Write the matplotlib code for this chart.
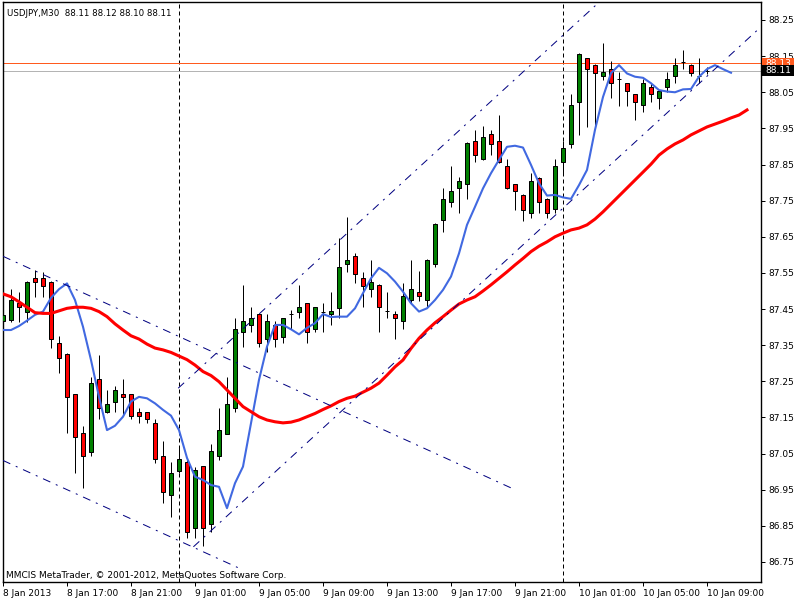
import matplotlib
matplotlib.use("Agg")
import matplotlib.pyplot as plt
from matplotlib.patches import Rectangle
from matplotlib.transforms import blended_transform_factory

# USDJPY M30 bars, 8 Jan 2013 13:00 .. 10 Jan 2013 09:00
opens = [87.417, 87.420, 87.468, 87.443, 87.536, 87.536, 87.525, 87.356, 87.326, 87.214,
         87.106, 87.055, 87.256, 87.164, 87.194, 87.214, 87.214, 87.164, 87.164, 87.134,
         87.044, 86.935, 87.003, 87.026, 86.845, 87.015, 86.854, 87.044, 87.105, 87.175,
         87.386, 87.405, 87.435, 87.366, 87.405, 87.374, 87.436, 87.443, 87.466, 87.394,
         87.443, 87.435, 87.454, 87.574, 87.597, 87.535, 87.505, 87.517, 87.445, 87.435,
         87.417, 87.475, 87.496, 87.475, 87.574, 87.697, 87.745, 87.784, 87.795, 87.915,
         87.865, 87.934, 87.915, 87.846, 87.795, 87.766, 87.715, 87.814, 87.755, 87.726,
         87.856, 87.906, 88.024, 88.144, 88.126, 88.095, 88.114, 88.086, 88.075, 88.044,
         88.015, 88.064, 88.035, 88.064, 88.095, 88.135, 88.126, 88.095, 88.110]
highs = [87.467, 87.505, 87.497, 87.528, 87.558, 87.553, 87.527, 87.375, 87.328, 87.216,
         87.126, 87.262, 87.323, 87.226, 87.237, 87.256, 87.216, 87.175, 87.166, 87.145,
         87.085, 87.026, 87.071, 87.032, 87.014, 87.017, 87.076, 87.175, 87.263, 87.424,
         87.517, 87.455, 87.437, 87.435, 87.416, 87.426, 87.447, 87.517, 87.468, 87.457,
         87.466, 87.496, 87.648, 87.706, 87.604, 87.553, 87.586, 87.519, 87.496, 87.445,
         87.523, 87.586, 87.555, 87.588, 87.688, 87.784, 87.847, 87.816, 87.912, 87.946,
         87.957, 87.946, 87.987, 87.865, 87.797, 87.768, 87.826, 87.816, 87.757, 87.864,
         87.916, 88.044, 88.159, 88.146, 88.128, 88.187, 88.137, 88.105, 88.077, 88.046,
         88.086, 88.075, 88.056, 88.105, 88.144, 88.167, 88.128, 88.144, 88.120]
lows = [87.386, 87.414, 87.415, 87.415, 87.483, 87.483, 87.342, 87.273, 87.107, 86.995,
        86.954, 87.044, 87.145, 87.162, 87.164, 87.157, 87.145, 87.134, 87.134, 87.025,
        86.914, 86.875, 86.996, 86.816, 86.816, 86.795, 86.834, 87.032, 87.103, 87.164,
        87.346, 87.386, 87.346, 87.332, 87.346, 87.355, 87.394, 87.424, 87.355, 87.386,
        87.386, 87.405, 87.424, 87.553, 87.523, 87.455, 87.484, 87.386, 87.424, 87.366,
        87.394, 87.466, 87.473, 87.457, 87.566, 87.664, 87.733, 87.715, 87.754, 87.856,
        87.863, 87.876, 87.854, 87.782, 87.724, 87.695, 87.703, 87.715, 87.703, 87.715,
        87.827, 87.895, 87.932, 87.955, 87.955, 88.084, 88.035, 88.012, 88.012, 87.973,
        87.994, 88.024, 88.004, 88.052, 88.075, 88.114, 88.095, 88.075, 88.100]
closes = [87.434, 87.475, 87.455, 87.525, 87.525, 87.514, 87.367, 87.315, 87.207, 87.095,
          87.044, 87.244, 87.175, 87.186, 87.226, 87.206, 87.155, 87.155, 87.145, 87.034,
          86.945, 86.995, 87.034, 86.834, 87.004, 86.845, 87.056, 87.115, 87.186, 87.394,
          87.416, 87.424, 87.355, 87.416, 87.366, 87.424, 87.436, 87.455, 87.386, 87.455,
          87.443, 87.444, 87.566, 87.586, 87.547, 87.515, 87.524, 87.455, 87.445, 87.424,
          87.486, 87.505, 87.486, 87.585, 87.685, 87.755, 87.777, 87.804, 87.909, 87.875,
          87.925, 87.907, 87.856, 87.784, 87.777, 87.724, 87.804, 87.745, 87.715, 87.846,
          87.895, 88.015, 88.156, 88.114, 88.104, 88.105, 88.075, 88.086, 88.054, 88.024,
          88.075, 88.044, 88.054, 88.086, 88.126, 88.135, 88.104, 88.095, 88.110]

# moving averages (drawn shifted forward, so they run past the last bar)
ma_fast = [87.392, 87.392, 87.403, 87.418, 87.434, 87.443, 87.481, 87.505, 87.521, 87.475,
           87.401, 87.309, 87.207, 87.115, 87.127, 87.152, 87.194, 87.207, 87.203, 87.189,
           87.171, 87.155, 87.115, 87.038, 86.986, 86.977, 86.963, 86.958, 86.899, 86.968,
           87.014, 87.134, 87.254, 87.346, 87.406, 87.406, 87.394, 87.380, 87.398, 87.411,
           87.436, 87.428, 87.429, 87.429, 87.452, 87.494, 87.535, 87.564, 87.549, 87.526,
           87.498, 87.466, 87.443, 87.452, 87.475, 87.503, 87.540, 87.604, 87.683, 87.733,
           87.784, 87.826, 87.863, 87.899, 87.902, 87.897, 87.849, 87.798, 87.764, 87.766,
           87.759, 87.755, 87.793, 87.835, 87.946, 88.037, 88.103, 88.125, 88.102, 88.093,
           88.090, 88.075, 88.056, 88.052, 88.050, 88.058, 88.059, 88.093, 88.114, 88.125,
           88.114, 88.104]
ma_slow = [87.492, 87.484, 87.470, 87.455, 87.440, 87.438, 87.438, 87.445, 87.452, 87.455,
           87.455, 87.452, 87.443, 87.429, 87.409, 87.392, 87.376, 87.367, 87.353, 87.342,
           87.337, 87.330, 87.320, 87.310, 87.295, 87.277, 87.266, 87.249, 87.226, 87.203,
           87.180, 87.166, 87.152, 87.143, 87.138, 87.135, 87.137, 87.143, 87.152, 87.161,
           87.172, 87.182, 87.194, 87.203, 87.209, 87.220, 87.231, 87.245, 87.267, 87.290,
           87.309, 87.341, 87.369, 87.392, 87.412, 87.429, 87.447, 87.464, 87.475, 87.484,
           87.500, 87.517, 87.535, 87.553, 87.572, 87.590, 87.609, 87.624, 87.636, 87.650,
           87.660, 87.669, 87.674, 87.683, 87.699, 87.719, 87.741, 87.763, 87.785, 87.807,
           87.829, 87.851, 87.876, 87.893, 87.907, 87.918, 87.932, 87.943, 87.954, 87.962,
           87.970, 87.979, 87.987, 88.001]

# trend lines: (bar index, price) pairs
chan_up_top = [(21.9, 87.231), (74.4, 88.297)]
chan_up_bottom = [(23.8, 86.792), (94.3, 88.222)]
chan_down_top = [(0.0, 87.596), (64.0, 86.950)]
chan_down_bottom = [(0.0, 87.031), (29.8, 86.730)]
day_breaks = [22, 70]

tick_bars = [0, 8, 16, 24, 32, 40, 48, 56, 64, 72, 80, 88]
tick_names = ["8 Jan 2013", "8 Jan 17:00", "8 Jan 21:00", "9 Jan 01:00", "9 Jan 05:00",
              "9 Jan 09:00", "9 Jan 13:00", "9 Jan 17:00", "9 Jan 21:00", "10 Jan 01:00",
              "10 Jan 05:00", "10 Jan 09:00"]
price_ticks = [86.75, 86.85, 86.95, 87.05, 87.15, 87.25, 87.35, 87.45, 87.55, 87.65,
               87.75, 87.85, 87.95, 88.05, 88.15, 88.25]
ask, bid = 88.13, 88.11

plt.rcParams['font.family'] = ['DejaVu Sans']
fig = plt.figure(figsize=(8, 6), dpi=100)
ax = fig.add_axes([3 / 800, 18 / 600, 758 / 800, 580 / 600])
ax.set_xlim(0, 94.75)
ax.set_ylim(86.6946, 88.2998)

px = 0.72  # one pixel in points
for k in range(len(opens)):
    o, h, l, c = opens[k], highs[k], lows[k], closes[k]
    ax.vlines(k, l, h, color='black', lw=px, zorder=2)
    if abs(c - o) < 1e-6:
        ax.hlines(o, k - 0.3, k + 0.3, color='black', lw=px, zorder=3)
    else:
        col = '#008000' if c > o else '#ff0000'
        ax.bar(k, abs(c - o), bottom=min(o, c), width=0.55, color=col,
               edgecolor='black', linewidth=px, zorder=3)

ax.plot(range(len(ma_fast)), ma_fast, color='#4169e1', lw=1.5, zorder=4)
ax.plot(range(len(ma_slow)), ma_slow, color='#ff0000', lw=2.2, zorder=4)

for line in [chan_up_top, chan_up_bottom, chan_down_top, chan_down_bottom]:
    ax.plot([p[0] for p in line], [p[1] for p in line], color='#000080', lw=px,
            linestyle=(0, (8, 6, 2, 6)), zorder=5)

for b in day_breaks:
    ax.axvline(b, color='black', lw=px, linestyle=(0, (4, 3)), zorder=1)

ax.axhline(ask, color='#ff5a1e', lw=px, zorder=1)
ax.axhline(bid, color='#b4b4b4', lw=px, zorder=1)

ax.yaxis.tick_right()
ax.set_yticks(price_ticks)
ax.set_yticklabels(["%.2f" % v for v in price_ticks])
ax.set_xticks(tick_bars)
ax.set_xticklabels(tick_names)
ax.tick_params(axis='both', labelsize=6.5, length=3, width=px, color='black', pad=2)
plt.setp(ax.get_xticklabels(), ha='left')
for s in ax.spines.values():
    s.set_linewidth(1)
    s.set_color('black')

# price labels on the right scale (bid box drawn over the ask box)
tr = blended_transform_factory(fig.transFigure, ax.transData)
box_h = 11 / 361.3
for val, col, z in [(ask, '#ff5a1e', 10), (bid, 'black', 12)]:
    fig.add_artist(Rectangle((762 / 800, val - box_h / 2), 32 / 800, box_h,
                             transform=tr, facecolor=col, edgecolor='none', zorder=z))
    fig.text(765 / 800, val, "%.2f" % val, transform=tr, color='white', fontsize=6.5,
             va='center', ha='left', zorder=z + 1)

ax.text(0.0053, 0.981, "USDJPY,M30  88.11 88.12 88.10 88.11", transform=ax.transAxes,
        fontsize=6.2, va='center', ha='left')
ax.text(0.004, 0.012, "MMCIS MetaTrader, \u00a9 2001-2012, MetaQuotes Software Corp.",
        transform=ax.transAxes, fontsize=6.5, va='center', ha='left')

fig.savefig("out.png", dpi=100)
